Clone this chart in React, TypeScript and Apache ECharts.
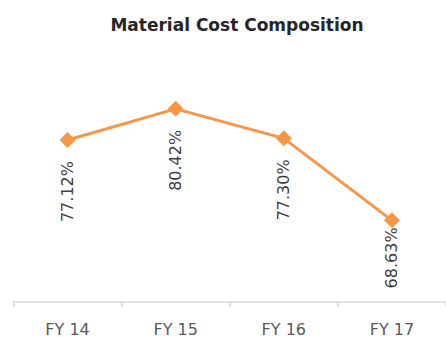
import React, { useEffect, useRef } from "react";
import * as echarts from "echarts";

const categories = ["FY 14", "FY 15", "FY 16", "FY 17"];
const costShare = [77.12, 80.42, 77.3, 68.63];
const chartTitle = "Material Cost Composition";

const ORANGE = "#F79646";

export default function App() {
  const ref = useRef<HTMLDivElement>(null);

  useEffect(() => {
    if (!ref.current) return;
    const chart = echarts.init(ref.current, undefined, { renderer: "svg" });

    // the last label sits tighter to its marker so it stays above the axis
    const seriesData = costShare.map((v, i) =>
      i === costShare.length - 1 ? { value: v, label: { distance: -1 } } : v
    );

    chart.setOption({
      animation: false,
      backgroundColor: "#ffffff",
      title: {
        text: chartTitle,
        left: 232,
        textAlign: "center",
        top: 11,
        textStyle: {
          fontFamily: "DejaVu Sans",
          fontWeight: "bold",
          fontSize: 17,
          color: "#262626",
        },
      },
      grid: { left: 13.5, right: -5.5, top: 65.5, bottom: 34 },
      xAxis: {
        type: "category",
        data: categories,
        boundaryGap: true,
        axisLine: { lineStyle: { color: "#d9d9d9", width: 1.5 } },
        axisTick: { show: true, length: 5, lineStyle: { color: "#d9d9d9", width: 1.5 } },
        axisLabel: {
          margin: 19,
          fontFamily: "DejaVu Sans",
          fontSize: 16,
          color: "#595959",
        },
      },
      yAxis: {
        type: "value",
        min: 60,
        max: 85,
        show: false,
        splitLine: { show: false },
      },
      series: [
        {
          type: "line",
          data: seriesData,
          symbol: "diamond",
          symbolSize: 16,
          itemStyle: { color: ORANGE },
          lineStyle: { color: ORANGE, width: 3 },
          label: {
            show: true,
            position: "bottom",
            distance: 13,
            rotate: 90,
            align: "right",
            verticalAlign: "middle",
            fontFamily: "DejaVu Sans",
            fontSize: 16,
            color: "#404040",
            formatter: (p: any) => Number(p.value).toFixed(2) + "%",
          },
        },
      ],
    });
    return () => chart.dispose();
  }, []);

  return (
    <div
      ref={ref}
      style={{ position: "absolute", left: 0, top: 0, width: 446, height: 337 }}
    />
  );
}
